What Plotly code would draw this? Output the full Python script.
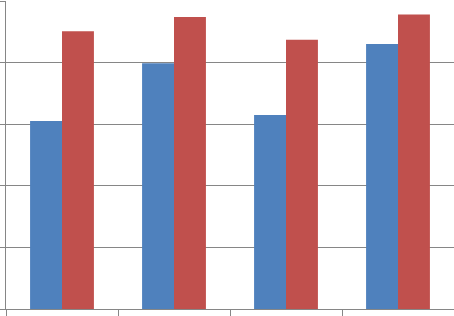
import plotly.graph_objects as go

categories = ["A", "B", "C", "D"]
series1 = [3.05, 3.99, 3.15, 4.30]
series2 = [4.51, 4.74, 4.37, 4.78]

fig = go.Figure()
fig.add_trace(go.Bar(x=categories, y=series1, marker=dict(color="#4F81BD", line=dict(width=0)), name="Series 1"))
fig.add_trace(go.Bar(x=categories, y=series2, marker=dict(color="#C0504D", line=dict(width=0)), name="Series 2"))

fig.update_layout(
    width=454, height=316,
    margin=dict(l=6, r=0, t=1, b=7, pad=0),
    paper_bgcolor="white", plot_bgcolor="white",
    barmode="group", bargap=0.43, bargroupgap=0,
    showlegend=False,
)
fig.update_xaxes(
    showticklabels=False, ticks="outside", ticklen=7, tickcolor="#868686", tickson="boundaries",
    showline=True, linecolor="#868686", linewidth=1, showgrid=False,
)
fig.update_yaxes(
    range=[0, 5], dtick=1, showticklabels=False, ticks="outside", ticklen=6, tickcolor="#868686",
    showline=True, linecolor="#868686", linewidth=1, showgrid=True, gridcolor="#868686", gridwidth=1,
    zeroline=False,
)
fig.write_html(
    "out.html",
    config={"displayModeBar": False},
    post_script="document.body.style.margin='0';document.body.style.padding='0';document.body.style.overflow='hidden';",
)
